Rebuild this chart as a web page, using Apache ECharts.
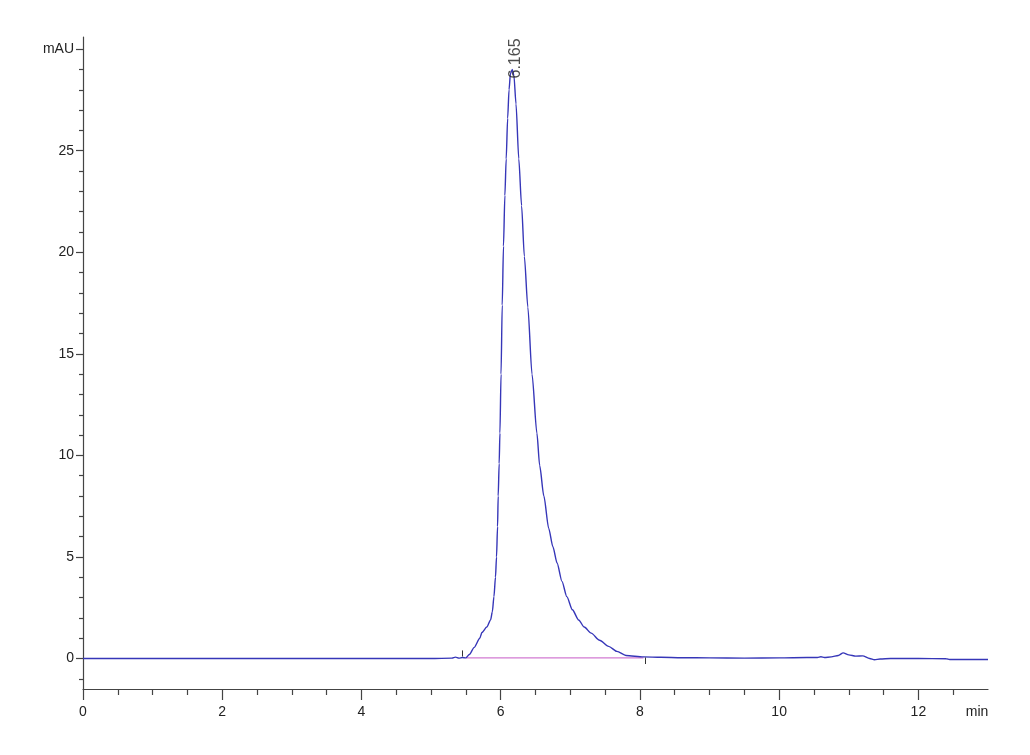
<!DOCTYPE html>
<html>
<head>
<meta charset="utf-8">
<script src="https://cdn.jsdelivr.net/npm/echarts@6/dist/echarts.min.js"></script>
<style>
html,body{margin:0;padding:0;background:#fff;}
#chart{width:1030px;height:755px;}
</style>
</head>
<body>
<div id="chart"></div>
<script>
// Retention time (min) and absorbance (mAU)
const times = [0, 2, 4, 5.0, 5.3, 5.35, 5.4, 5.45, 5.5, 5.55, 5.62, 5.7, 5.73, 5.8, 5.855, 5.88, 5.903, 5.925, 5.94, 5.955, 5.964, 5.978, 5.989, 6.005, 6.022, 6.04, 6.06, 6.079, 6.10, 6.12, 6.14, 6.167, 6.19, 6.22, 6.26, 6.30, 6.34, 6.39, 6.45, 6.52, 6.56, 6.62, 6.69, 6.75, 6.81, 6.88, 6.95, 7.03, 7.12, 7.2, 7.3, 7.42, 7.55, 7.67, 7.8, 8.05, 8.3, 8.6, 9.0, 9.5, 10.0, 10.4, 10.55, 10.6, 10.65, 10.75, 10.85, 10.92, 11.0, 11.1, 11.2, 11.3, 11.37, 11.45, 11.6, 12.0, 12.4, 12.45, 13.0];
const signal = [0, 0, 0, 0, 0.02, 0.07, 0.02, 0.05, 0.03, 0.2, 0.55, 1.0, 1.28, 1.55, 1.9, 2.3, 3.05, 4.0, 5.0, 6.5, 8.0, 9.6, 11.1, 14.0, 17.4, 20.3, 22.8, 24.6, 26.6, 28.0, 28.8, 29.0, 28.7, 27.3, 24.6, 22.3, 19.8, 17.3, 14.0, 11.1, 9.5, 8.0, 6.4, 5.5, 4.7, 3.8, 3.05, 2.4, 1.9, 1.55, 1.25, 0.9, 0.6, 0.35, 0.15, 0.08, 0.06, 0.04, 0.03, 0.02, 0.03, 0.05, 0.05, 0.09, 0.05, 0.08, 0.15, 0.28, 0.18, 0.12, 0.13, 0.0, -0.06, -0.02, 0.0, 0.0, -0.01, -0.05, -0.05];

// Integration baseline and peak annotation
const baseTimes = [5.5, 8.05];
const baseValues = [0.03, 0.03];
const peakTime = [6.165];
const peakValue = [29.0];
const peakLabel = ['6.165'];

// Axis ticks
const xLabelValues = [0, 2, 4, 6, 8, 10, 12];
const xMinorValues = [0.5, 1, 1.5, 2.5, 3, 3.5, 4.5, 5, 5.5, 6.5, 7, 7.5, 8.5, 9, 9.5, 10.5, 11, 11.5, 12.5];
const xUnit = 'min';
const yLabelValues = [0, 5, 10, 15, 20, 25, 30];
const yMinorValues = [-1, 1, 2, 3, 4, 6, 7, 8, 9, 11, 12, 13, 14, 16, 17, 18, 19, 21, 22, 23, 24, 26, 27, 28, 29];
const yUnit = 'mAU';

const FONT = "'Liberation Sans', Arial, sans-serif";
const AXIS_COLOR = '#444';

const chart = echarts.init(document.getElementById('chart'), null, {renderer: 'canvas'});
const curve = times.map((t, i) => [t, signal[i]]);
const base = baseTimes.map((t, i) => [t, baseValues[i]]);

chart.setOption({
  backgroundColor: '#fff',
  animation: false,
  grid: {left: 83, right: 42, top: 37, bottom: 66, containLabel: false},
  xAxis: [
    {
      type: 'value', min: 0, max: 13,
      axisLine: {show: true, onZero: false, lineStyle: {color: AXIS_COLOR, width: 1.2}},
      axisTick: {show: true, length: 11, customValues: xLabelValues, lineStyle: {color: AXIS_COLOR, width: 1.2}},
      axisLabel: {
        show: true, margin: 16, customValues: xLabelValues.concat([13]),
        formatter: v => (v === 13 ? '{u|' + xUnit + '}' : String(v)),
        color: '#222', fontFamily: FONT, fontSize: 14,
        rich: {u: {color: '#222', fontFamily: FONT, fontSize: 14, padding: [0, 22, 0, 0]}}
      },
      splitLine: {show: false}
    },
    {
      type: 'value', min: 0, max: 13, position: 'bottom', gridIndex: 0,
      axisLine: {show: false, onZero: false},
      axisTick: {show: true, length: 6, customValues: xMinorValues, lineStyle: {color: AXIS_COLOR, width: 1.2}},
      axisLabel: {show: false},
      splitLine: {show: false}
    }
  ],
  yAxis: [
    {
      type: 'value', min: -1.5, max: 30.6,
      axisLine: {show: true, onZero: false, lineStyle: {color: AXIS_COLOR, width: 1.2}},
      axisTick: {show: true, length: 7, customValues: yLabelValues, lineStyle: {color: AXIS_COLOR, width: 1.2}},
      axisLabel: {
        show: true, margin: 9, customValues: yLabelValues,
        formatter: v => (v === 30 ? yUnit : String(v)),
        color: '#222', fontFamily: FONT, fontSize: 14
      },
      splitLine: {show: false}
    },
    {
      type: 'value', min: -1.5, max: 30.6, position: 'left', gridIndex: 0,
      axisLine: {show: false, onZero: false},
      axisTick: {show: true, length: 4, customValues: yMinorValues, lineStyle: {color: AXIS_COLOR, width: 1.2}},
      axisLabel: {show: false},
      splitLine: {show: false}
    }
  ],
  series: [
    {
      type: 'line', xAxisIndex: 0, yAxisIndex: 0,
      data: base, showSymbol: false, symbol: 'none',
      lineStyle: {color: '#d27ad2', width: 1.3},
      z: 2,
      markLine: {
        silent: true, symbol: ['none', 'none'],
        label: {show: false},
        lineStyle: {color: '#333', width: 1, type: 'solid'},
        data: [
          [{coord: [5.45, 0.1]}, {coord: [5.45, 0.4]}],
          [{coord: [8.07, 0.05]}, {coord: [8.07, -0.27]}]
        ]
      }
    },
    {
      type: 'line', xAxisIndex: 0, yAxisIndex: 0,
      data: curve, showSymbol: false, symbol: 'none', smooth: 0.25, smoothMonotone: 'x',
      lineStyle: {color: '#3636b8', width: 1.4},
      z: 3
    },
    {
      type: 'scatter', xAxisIndex: 0, yAxisIndex: 0,
      data: peakTime.map((t, i) => [t, peakValue[i]]),
      symbolSize: 0,
      label: {
        show: true, position: 'top', distance: 0, rotate: 90,
        align: 'left', verticalAlign: 'middle', offset: [-9, 3],
        formatter: p => peakLabel[p.dataIndex],
        color: '#222', fontFamily: FONT, fontSize: 16
      },
      z: 4
    }
  ]
});
</script>
</body>
</html>
